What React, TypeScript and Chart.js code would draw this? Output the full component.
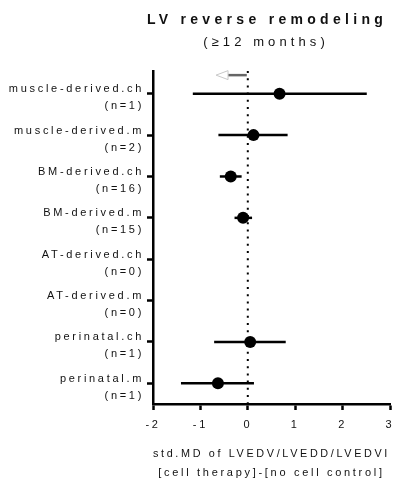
import React, { useEffect, useRef } from "react";
import { Chart, registerables } from "chart.js";

Chart.register(...registerables);

// ---- Data ----
const categories = [
  "muscle-derived.ch",
  "muscle-derived.m",
  "BM-derived.ch",
  "BM-derived.m",
  "AT-derived.ch",
  "AT-derived.m",
  "perinatal.ch",
  "perinatal.m",
];
const nCounts = [1, 2, 16, 15, 0, 0, 1, 1];
const means: (number | null)[] = [0.67, 0.12, -0.36, -0.1, null, null, 0.05, -0.63];
const ciLow: (number | null)[] = [-1.16, -0.62, -0.59, -0.28, null, null, -0.71, -1.41];
const ciHigh: (number | null)[] = [2.51, 0.84, -0.13, 0.09, null, null, 0.8, 0.13];

const xTicks = [-2, -1, 0, 1, 2, 3];
const X_MIN = -2;
const X_MAX = 3;
const Y_MIN = 0.45;
const Y_MAX = 8.5;

const titleText = "LV reverse remodeling";
const subtitleText = "(\u226512 months)";
const xTitleLines = ["std.MD of LVEDV/LVEDD/LVEDVI", "[cell therapy]-[no cell control]"];

// direction arrow annotation (data units)
const ARROW_FROM = 0;
const ARROW_TO = -0.67;
const ARROW_Y = 0.55;

const FONT = "'Liberation Sans', Arial, sans-serif";
const TEXT_COLOR = "#111";

export default function App() {
  const canvasRef = useRef<HTMLCanvasElement | null>(null);

  useEffect(() => {
    const canvas = canvasRef.current;
    if (!canvas) return;

    const setSpacing = (chart: any) => {
      try {
        (chart.ctx as any).letterSpacing = "2.7px";
      } catch (e) {}
    };

    const spacingPlugin = {
      id: "spacing",
      beforeLayout: setSpacing,
      beforeDraw: setSpacing,
      beforeDatasetsDraw: setSpacing,
    };

    const overlayPlugin = {
      id: "overlay",
      afterDraw(chart: any) {
        const ctx = chart.ctx as CanvasRenderingContext2D;
        const xs = chart.scales.x;
        const ys = chart.scales.y;
        // titles
        ctx.save();
        ctx.fillStyle = TEXT_COLOR;
        ctx.textAlign = "center";
        ctx.textBaseline = "middle";
        (ctx as any).letterSpacing = "4.3px";
        ctx.font = `bold 14px ${FONT}`;
        ctx.fillText(titleText, 267, 20);
        (ctx as any).letterSpacing = "4.1px";
        ctx.font = `13px ${FONT}`;
        ctx.fillText(subtitleText, 266, 42);
        ctx.restore();

        // arrow
        const x0 = xs.getPixelForValue(ARROW_FROM);
        const x1 = xs.getPixelForValue(ARROW_TO);
        const y = ys.getPixelForValue(ARROW_Y);
        const headLen = 12;
        const headH = 4.5;
        ctx.save();
        ctx.strokeStyle = "#666";
        ctx.lineWidth = 2.5;
        ctx.beginPath();
        ctx.moveTo(x0 - 1, y);
        ctx.lineTo(x1 + headLen, y);
        ctx.stroke();
        ctx.strokeStyle = "#c8c8c8";
        ctx.fillStyle = "#fff";
        ctx.lineWidth = 1;
        ctx.beginPath();
        ctx.moveTo(x1, y);
        ctx.lineTo(x1 + headLen, y - headH);
        ctx.lineTo(x1 + headLen, y + headH);
        ctx.closePath();
        ctx.fill();
        ctx.stroke();
        ctx.restore();
      },
    };

    const rows = categories.map((_, i) => i + 1);

    const ciDatasets = rows
      .filter((_, i) => ciLow[i] !== null && ciHigh[i] !== null)
      .map((r) => ({
        type: "scatter" as const,
        data: [
          { x: ciLow[r - 1] as number, y: r },
          { x: ciHigh[r - 1] as number, y: r },
        ],
        showLine: true,
        borderColor: "#000",
        borderWidth: 2.5,
        pointRadius: 0,
        pointHoverRadius: 0,
        order: 2,
      }));

    const meanData = rows
      .filter((_, i) => means[i] !== null)
      .map((r) => ({ x: means[r - 1] as number, y: r }));

    const chart = new Chart(canvas, {
      type: "scatter",
      data: {
        datasets: [
          {
            data: meanData,
            pointRadius: 6,
            pointHoverRadius: 6,
            backgroundColor: "#000",
            borderColor: "#000",
            borderWidth: 0,
            order: 1,
          },
          ...ciDatasets,
          {
            data: [
              { x: 0, y: Y_MIN },
              { x: 0, y: Y_MAX },
            ],
            showLine: true,
            borderColor: "#000",
            borderWidth: 2,
            borderDash: [2, 5.2],
            pointRadius: 0,
            pointHoverRadius: 0,
            order: 3,
          },
        ] as any,
      },
      options: {
        animation: false,
        responsive: false,
        maintainAspectRatio: false,
        events: [],
        layout: { padding: { top: 71, right: 8, left: 0, bottom: 0 } },
        plugins: {
          legend: { display: false },
          tooltip: { enabled: false },
          title: { display: false },
        },
        scales: {
          x: {
            type: "linear",
            min: X_MIN,
            max: X_MAX,
            afterFit(scale: any) {
              scale.height = 78;
            },
            afterBuildTicks(scale: any) {
              scale.ticks = xTicks.map((v) => ({ value: v }));
            },
            grid: {
              drawOnChartArea: false,
              drawTicks: true,
              tickLength: 6,
              tickWidth: 2.5,
              tickColor: "#000",
            },
            border: { display: true, color: "#000", width: 2.5 },
            ticks: {
              color: TEXT_COLOR,
              font: { family: FONT, size: 11, lineHeight: "23px" },
              padding: 3,
              maxRotation: 0,
              autoSkip: false,
              callback: (v: any) => String(v),
            },
            title: {
              display: true,
              text: xTitleLines,
              color: TEXT_COLOR,
              font: { family: FONT, size: 11, lineHeight: "19px" },
              padding: { top: 0, bottom: 0 },
            },
          },
          y: {
            type: "linear",
            min: Y_MIN,
            max: Y_MAX,
            reverse: true,
            afterFit(scale: any) {
              scale.width = 153;
            },
            afterBuildTicks(scale: any) {
              scale.ticks = rows.map((v) => ({ value: v }));
            },
            grid: {
              drawOnChartArea: false,
              drawTicks: true,
              tickLength: 6,
              tickWidth: 2.5,
              tickColor: "#000",
            },
            border: { display: true, color: "#000", width: 2.5 },
            ticks: {
              color: TEXT_COLOR,
              font: { family: FONT, size: 11, lineHeight: "17px" },
              padding: 3,
              labelOffset: 4,
              autoSkip: false,
              callback: (v: any) => {
                const i = Math.round(Number(v)) - 1;
                return [categories[i], `(n=${nCounts[i]})`];
              },
            },
          },
        },
      } as any,
      plugins: [spacingPlugin, overlayPlugin],
    });

    return () => {
      chart.destroy();
    };
  }, []);

  return (
    <div style={{ position: "fixed", left: 0, top: 0, width: 398, height: 482, background: "#fff" }}>
      <canvas ref={canvasRef} width={398} height={482} style={{ display: "block", width: 398, height: 482 }} />
    </div>
  );
}
